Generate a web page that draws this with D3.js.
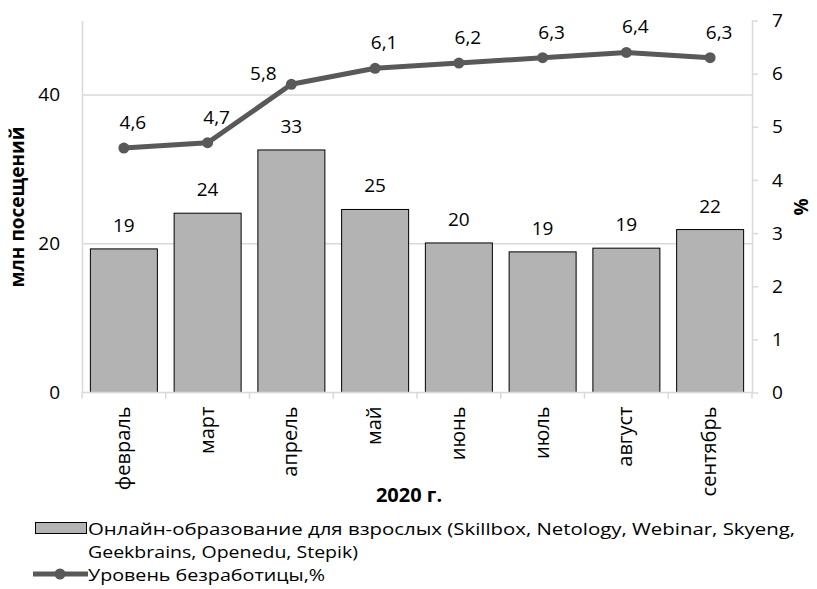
<!DOCTYPE html>
<html>
<head>
<meta charset="utf-8">
<script src="https://cdn.jsdelivr.net/npm/d3@7"></script>
<style>
  body { margin: 0; background: #fff; }
  text { font-family: "Open Sans", sans-serif; fill: #000; }
</style>
</head>
<body>
<div id="chart"></div>
<script>
// Data
var months = ["февраль", "март", "апрель", "май", "июнь", "июль", "август", "сентябрь"];
var visits = [19.3, 24.1, 32.6, 24.6, 20.1, 18.9, 19.4, 21.9];   // млн посещений
var unemployment = [4.6, 4.7, 5.8, 6.1, 6.2, 6.3, 6.4, 6.3];     // %
var leftTicks = [0, 20, 40];
var rightTicks = [0, 1, 2, 3, 4, 5, 6, 7];
var legendBars = ["Онлайн-образование для взрослых (Skillbox, Netology, Webinar, Skyeng,",
                  "Geekbrains, Openedu, Stepik)"];
var legendLine = "Уровень безработицы,%";

var W = 817, H = 589,
    plot = {left: 82, right: 752, top: 20.5, bottom: 392.5},
    barColor = "#b3b3b3",
    lineColor = "#595959",
    axisColor = "#d9d9d9",
    fs = "19px";

var svg = d3.select("#chart").append("svg")
    .attr("width", W)
    .attr("height", H);

var x = d3.scaleBand()
    .domain(months)
    .range([plot.left, plot.right])
    .paddingInner(0.2)
    .paddingOuter(0.1);

var yL = d3.scaleLinear().domain([0, 50]).range([plot.bottom, plot.top]);
var yR = d3.scaleLinear().domain([0, 7]).range([plot.bottom, plot.top]);

// gridlines
svg.append("g").selectAll("line")
    .data(leftTicks.filter(function(d) { return d > 0; }))
    .enter().append("line")
    .attr("x1", plot.left).attr("x2", plot.right)
    .attr("y1", function(d) { return yL(d); })
    .attr("y2", function(d) { return yL(d); })
    .style("stroke", axisColor)
    .style("stroke-width", 1.5);

// left axis
var leftAxis = svg.append("g")
    .attr("transform", "translate(" + plot.left + ",0)")
    .call(d3.axisLeft(yL).tickValues(leftTicks).tickSize(0).tickPadding(22));
leftAxis.select(".domain").style("stroke", axisColor).style("stroke-width", 1.5);
leftAxis.selectAll("text").style("font-size", fs).style("font-family", "Open Sans");

// right axis
var rightAxis = svg.append("g")
    .attr("transform", "translate(" + plot.right + ",0)")
    .call(d3.axisRight(yR).tickValues(rightTicks).tickFormat(d3.format("d"))
        .tickSize(6).tickSizeOuter(0).tickPadding(14));
rightAxis.select(".domain").style("stroke", axisColor).style("stroke-width", 1.5);
rightAxis.selectAll(".tick line").style("stroke", axisColor).style("stroke-width", 1.5);
rightAxis.selectAll("text").style("font-size", fs).style("font-family", "Open Sans");

// bars
svg.append("g").selectAll("rect")
    .data(visits)
    .enter().append("rect")
    .attr("x", function(d, i) { return x(months[i]); })
    .attr("y", function(d) { return yL(d); })
    .attr("width", x.bandwidth())
    .attr("height", function(d) { return plot.bottom - yL(d); })
    .style("fill", barColor)
    .style("stroke", "#000")
    .style("stroke-width", 1);

// bar labels
svg.append("g").selectAll("text")
    .data(visits)
    .enter().append("text")
    .attr("x", function(d, i) { return x(months[i]) + x.bandwidth() / 2; })
    .attr("y", function(d) { return yL(d) - 17; })
    .attr("text-anchor", "middle")
    .style("font-size", fs)
    .text(function(d) { return Math.round(d); });

// bottom axis (category boundaries)
var bounds = d3.range(months.length + 1).map(function(i) {
    return plot.left + i * (plot.right - plot.left) / months.length;
});
svg.append("line")
    .attr("x1", plot.left).attr("x2", plot.right)
    .attr("y1", plot.bottom).attr("y2", plot.bottom)
    .style("stroke", axisColor).style("stroke-width", 1.5);
svg.append("g").selectAll("line")
    .data(bounds)
    .enter().append("line")
    .attr("x1", function(d) { return d; }).attr("x2", function(d) { return d; })
    .attr("y1", plot.bottom).attr("y2", plot.bottom + 6)
    .style("stroke", axisColor).style("stroke-width", 1.5);

// month labels, rotated
svg.append("g").selectAll("text")
    .data(months)
    .enter().append("text")
    .attr("transform", function(d) {
        return "translate(" + (x(d) + x.bandwidth() / 2 + 6) + "," + (plot.bottom + 14) + ") rotate(-90)";
    })
    .attr("text-anchor", "end")
    .style("font-size", "20px")
    .text(function(d) { return d; });

// line
var line = d3.line()
    .x(function(d, i) { return x(months[i]) + x.bandwidth() / 2; })
    .y(function(d) { return yR(d); });

svg.append("path")
    .datum(unemployment)
    .attr("d", line)
    .style("fill", "none")
    .style("stroke", lineColor)
    .style("stroke-width", 5)
    .style("stroke-linejoin", "round");

svg.append("g").selectAll("circle")
    .data(unemployment)
    .enter().append("circle")
    .attr("cx", function(d, i) { return x(months[i]) + x.bandwidth() / 2; })
    .attr("cy", function(d) { return yR(d); })
    .attr("r", 5.5)
    .style("fill", lineColor);

// line labels (april label sits left of its point)
var fmt = function(d) { return d3.format(".1f")(d).replace(".", ","); };
svg.append("g").selectAll("text")
    .data(unemployment)
    .enter().append("text")
    .attr("x", function(d, i) {
        return x(months[i]) + x.bandwidth() / 2 + (months[i] === "апрель" ? -28 : 9);
    })
    .attr("y", function(d, i) {
        return yR(d) + (months[i] === "апрель" ? -4 : -19);
    })
    .attr("text-anchor", "middle")
    .style("font-size", fs)
    .text(fmt);

// axis titles
svg.append("text")
    .attr("transform", "translate(24,207) rotate(-90)")
    .attr("text-anchor", "middle")
    .style("font-size", "19px")
    .style("font-weight", "bold")
    .text("млн  посещений");

svg.append("text")
    .attr("transform", "translate(808,207) rotate(-90)")
    .attr("text-anchor", "middle")
    .style("font-size", "19px")
    .style("font-weight", "bold")
    .text("%");

svg.append("text")
    .attr("x", 409).attr("y", 502)
    .attr("text-anchor", "middle")
    .style("font-size", "20px")
    .style("font-weight", "bold")
    .text("2020 г.");

// legend
var lg = svg.append("g");
lg.append("rect")
    .attr("x", 35.5).attr("y", 522.5)
    .attr("width", 51).attr("height", 11)
    .style("fill", barColor).style("stroke", "#000").style("stroke-width", 1);
lg.append("text").attr("x", 88).attr("y", 535)
    .attr("textLength", 707).attr("lengthAdjust", "spacingAndGlyphs")
    .style("font-size", "16.5px").text(legendBars[0]);
lg.append("text").attr("x", 88).attr("y", 558)
    .attr("textLength", 270).attr("lengthAdjust", "spacingAndGlyphs")
    .style("font-size", "16.5px").text(legendBars[1]);
lg.append("line")
    .attr("x1", 33).attr("x2", 88).attr("y1", 574).attr("y2", 574)
    .style("stroke", lineColor).style("stroke-width", 5);
lg.append("circle").attr("cx", 60).attr("cy", 574).attr("r", 5.5).style("fill", lineColor);
lg.append("text").attr("x", 88).attr("y", 581)
    .attr("textLength", 237).attr("lengthAdjust", "spacingAndGlyphs")
    .style("font-size", "16.5px").text(legendLine);
</script>
</body>
</html>
